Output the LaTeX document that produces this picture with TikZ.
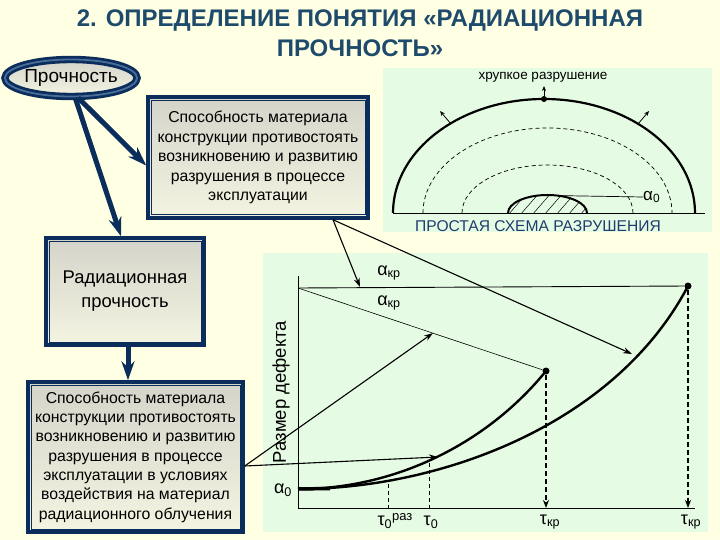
\documentclass[tikz,border=0pt]{standalone}
\usepackage{fontspec}
\setmainfont{Liberation Sans}
\usetikzlibrary{arrows.meta,shapes.geometric}
\definecolor{bg}{HTML}{FFFFE3}
\definecolor{panel}{HTML}{E6FBE4}
\definecolor{navy}{HTML}{0A2D5C}
\definecolor{navylight}{HTML}{4A6E9A}
\definecolor{titleblue}{HTML}{1E4B6B}
\definecolor{capblue}{HTML}{1F3C6E}
\definecolor{boxtop}{HTML}{D4D4CA}
\definecolor{boxbot}{HTML}{F4F4E2}
\tikzset{
  fbox/.style={rectangle, draw=navy, line width=3.5pt, top color=boxtop, bottom color=boxbot,
     align=center, inner sep=0pt, text=black},
  bigarrow/.style={draw=navy, line width=5pt, -{Stealth[length=19pt,width=13pt]}},
  thinarrow/.style={draw=black, line width=1.1pt, -{Stealth[length=9pt,width=6pt]}},
  thin/.style={draw=black, line width=0.7pt},
  curve/.style={draw=black, line width=2.4pt},
  dashvert/.style={draw=black, line width=1.6pt, dash pattern=on 5pt off 3pt, -{Stealth[length=8pt,width=6pt]}},
  thindash/.style={draw=black, line width=0.7pt, dash pattern=on 4pt off 3pt},
  dot/.style={circle, fill=black, inner sep=0pt, minimum size=7pt},
  lbl/.style={inner sep=0pt, text=black},
  glbl/.style={inner sep=0pt, text=black, font=\fontsize{18}{20}\selectfont}
}
\begin{document}
\begin{tikzpicture}[x=1pt,y=-1pt]
\useasboundingbox (0,0) rectangle (720,540);
\fill[bg] (0,0) rectangle (720,540);
% title
\node[lbl, text=titleblue, font=\fontsize{24}{28}\selectfont\bfseries] (title1) at (360,21)
  {2. ОПРЕДЕЛЕНИЕ ПОНЯТИЯ «РАДИАЦИОННАЯ};
\node[lbl, text=titleblue, font=\fontsize{24}{28}\selectfont\bfseries] (title2) at (360,48)
  {ПРОЧНОСТЬ»};
% panels
\fill[panel] (383,68) rectangle (712,232);
\fill[panel] (263,253) rectangle (708,532);

% ---------- upper right scheme ----------
\node[lbl, font=\fontsize{13.5}{15}\selectfont] (brittle) at (543,77) {хрупкое разрушение};
\draw[thin] (393,213) coordinate (bl) -- (705,213) coordinate (br);
% outer arc (solid thick)
\draw[black, line width=2.2pt] (393,213) arc[start angle=180, end angle=360, x radius=151, y radius=114];
% dashed arcs
\draw[thindash] (423,213) arc[start angle=180, end angle=360, x radius=124.5, y radius=85];
\draw[thindash] (462,213) arc[start angle=180, end angle=360, x radius=85.5, y radius=48];
% defect
\begin{scope}
\clip (508,213) arc[start angle=180, end angle=360, x radius=39.5, y radius=18] -- cycle;
\foreach \i in {-40,-28,...,80} {
  \draw[black, line width=0.5pt] (500+\i,215) -- (520+\i,192);
}
\end{scope}
\draw[black, line width=2pt] (508,213) arc[start angle=180, end angle=360, x radius=39.5, y radius=18];
\coordinate (defecttop) at (552,195.5);
\node[lbl, font=\fontsize{17}{19}\selectfont, anchor=west] (a0top) at (643,197) {α\textsubscript{0}};
\draw[thin] (defecttop) -- (a0top.west);
% top dot and small arrows
\node[dot, minimum size=6pt] (topdot) at (544,99) {};
\coordinate (uptip) at (544,86);
\draw[black, line width=0.8pt, -{Stealth[length=5pt,width=4pt]}] (topdot) -- (uptip);
\coordinate (lbase) at (451,124); \coordinate (ltip) at (440,111);
\coordinate (rbase) at (638,124); \coordinate (rtip) at (649,111);
\draw[black, line width=0.8pt, -{Stealth[length=5pt,width=4pt]}] (lbase) -- (ltip);
\draw[black, line width=0.8pt, -{Stealth[length=5pt,width=4pt]}] (rbase) -- (rtip);
\node[lbl, text=capblue, font=\fontsize{15.6}{17}\selectfont] (schemecap) at (538,226) {ПРОСТАЯ СХЕМА РАЗРУШЕНИЯ};

% ---------- left blocks ----------
\node[ellipse, draw=navy, double=navylight, double distance=1.8pt, line width=2.8pt,
      top color=boxtop, bottom color=boxbot, minimum width=122pt, minimum height=37pt, inner sep=0pt,
      font=\fontsize{19}{21}\selectfont] (ell) at (71,78) {Прочность};
\node[fbox, minimum width=220pt, minimum height=121pt, font=\fontsize{15.8}{19.5}\selectfont] (box1) at (258,157.5)
  {Способность материала\\конструкции противостоять\\возникновению и развитию\\разрушения в процессе\\эксплуатации};
\node[fbox, minimum width=158pt, minimum height=107pt, font=\fontsize{18.4}{24}\selectfont] (box2) at (125,291.5)
  {Радиационная\\прочность};
\node[fbox, minimum width=215pt, minimum height=150pt, font=\fontsize{15.8}{19.3}\selectfont] (box3) at (135.5,457)
  {Способность материала\\конструкции противостоять\\возникновению и развитию\\разрушения в процессе\\эксплуатации в условиях\\воздействия на материал\\радиационного облучения};
\foreach \b in {box1,box2,box3} {
  \draw[navy, line width=0.9pt] ([shift={(4.8pt,-4.8pt)}]\b.north west) rectangle ([shift={(-4.8pt,4.8pt)}]\b.south east);
}
\draw[bigarrow] (ell.-78) -- ([xshift=-4pt]box2.north);
\draw[bigarrow] (ell.-70) -- ([yshift=-8pt]box1.west);
\draw[bigarrow] ([xshift=3pt]box2.south) -- ([xshift=3pt]box2.south |- box3.north);

% ---------- lower graph ----------
\coordinate (origin) at (298,508);
\coordinate (ytop) at (298,276);
\coordinate (xend) at (695,508);
\draw[thin, line width=0.9pt] (ytop) -- (origin) -- (xend);
\node[dot] (d1) at (546,371) {};
\node[dot] (d2) at (688,286) {};
\coordinate (akrL) at (298,288);
\draw[thin, line width=0.9pt] (akrL) -- (d2);
\draw[thin, line width=0.6pt] (akrL) -- (d1);
\node[glbl] (akr1) at (389,273) {α\textsubscript{кр}};
\node[glbl] (akr2) at (389,303) {α\textsubscript{кр}};
\coordinate (c0) at (298,489);
\draw[curve] (c0) .. controls (400,489) and (490,440) .. (d1.center);
\draw[curve] (c0) .. controls (440,489) and (615,425) .. (d2.center);
\draw[curve, line width=3.5pt] (c0) -- (330,488.5);
\node[glbl] (a0) at (283,490) {α\textsubscript{0}};
\node[lbl, font=\fontsize{18.5}{20}\selectfont, rotate=90] (ylabel) at (281,392) {Размер дефекта};
% dashed verticals
\coordinate (x1) at (546,508);
\coordinate (x2) at (688,508);
\draw[dashvert] (d1) -- (x1);
\draw[dashvert] (d2) -- (x2);
\coordinate (t0r) at (388,483.5); \coordinate (t0rb) at (388,508);
\coordinate (t0) at (429,463); \coordinate (t0b) at (429,508);
\draw[thindash] (t0r) -- (t0rb);
\draw[thindash] (t0) -- (t0b);
% tick labels
\node[glbl] (lt0r) at (395,521) {τ\textsubscript{0}\raisebox{5pt}{\fontsize{13}{15}\selectfont раз}};
\node[glbl] (lt0) at (431,522) {τ\textsubscript{0}};
\node[glbl] (lt1) at (550,522) {τ\textsubscript{кр}};
\node[glbl] (lt2) at (691,522) {τ\textsubscript{кр}};
% connectors from boxes to graph
\coordinate (tipA) at (360,287);
\coordinate (tipB) at (632,354);
\draw[thinarrow] ([xshift=75pt]box1.south) -- (tipA);
\draw[thinarrow] ([xshift=75pt]box1.south) -- (tipB);
\coordinate (tipC) at (433,333);
\coordinate (tipD) at (438,457);
\draw[thinarrow] ([yshift=-9pt]box3.east) -- (tipC);
\draw[thinarrow] ([yshift=-9pt]box3.east) -- (tipD);
\end{tikzpicture}
\end{document}
